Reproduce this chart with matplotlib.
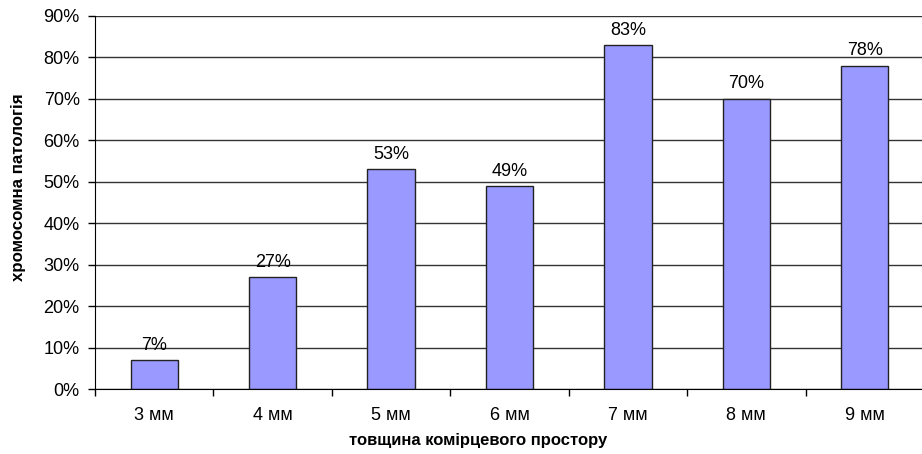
import matplotlib
matplotlib.use("Agg")
import matplotlib.pyplot as plt
import numpy as np
from matplotlib.ticker import FixedLocator, PercentFormatter

categories = ["3 мм", "4 мм", "5 мм", "6 мм", "7 мм", "8 мм", "9 мм"]
values = [7, 27, 53, 49, 83, 70, 78]
y_ticks = [0, 10, 20, 30, 40, 50, 60, 70, 80, 90]

plt.rcParams['font.family'] = ['Liberation Sans', 'DejaVu Sans']

W, H = 922, 454
fig = plt.figure(figsize=(W/100, H/100), dpi=100)
left, right, top, bottom = 95, 924, 16, 389
ax = fig.add_axes([left/W, 1-bottom/H, (right-left)/W, (bottom-top)/H])

FS = 13
x = np.arange(len(categories))
ax.bar(x, values, width=0.4, color="#9999FF", edgecolor="#222222", linewidth=1, zorder=3)
for xi, v in zip(x, values):
    ax.annotate(f"{v}%", (xi, v), xytext=(0, 7.5), textcoords="offset points",
                ha="center", va="baseline", fontsize=FS, color="black", zorder=4)

ax.set_xlim(-0.5, len(categories) - 0.5)
ax.set_ylim(0, 90)
ax.set_yticks(y_ticks)
ax.yaxis.set_major_formatter(PercentFormatter(decimals=0))
ax.grid(axis="y", color="#333333", linewidth=1, zorder=0)
for s in ["top", "right"]:
    ax.spines[s].set_visible(False)
ax.spines["left"].set_color("black")
ax.spines["bottom"].set_color("black")
ax.spines["left"].set_zorder(5)
ax.spines["bottom"].set_zorder(5)

ax.set_xticks(x)
ax.set_xticklabels(categories, fontsize=FS)
ax.tick_params(axis="x", which="major", length=0, pad=13)
ax.xaxis.set_minor_locator(FixedLocator(np.arange(-0.5, len(categories), 1.0)))
ax.tick_params(axis="x", which="minor", length=5, width=1, color="black", direction="out")
ax.tick_params(axis="y", length=5, width=1, color="black", direction="out", labelsize=FS, pad=6)

fig.text(478/W, 1-440/H, "товщина комірцевого простору", fontsize=12, fontweight="bold",
         ha="center", va="center")
fig.text(18/W, 1-187/H, "хромосомна патологія", fontsize=12.2, fontweight="bold",
         ha="center", va="center", rotation=90)

fig.savefig("out.png", dpi=100)
